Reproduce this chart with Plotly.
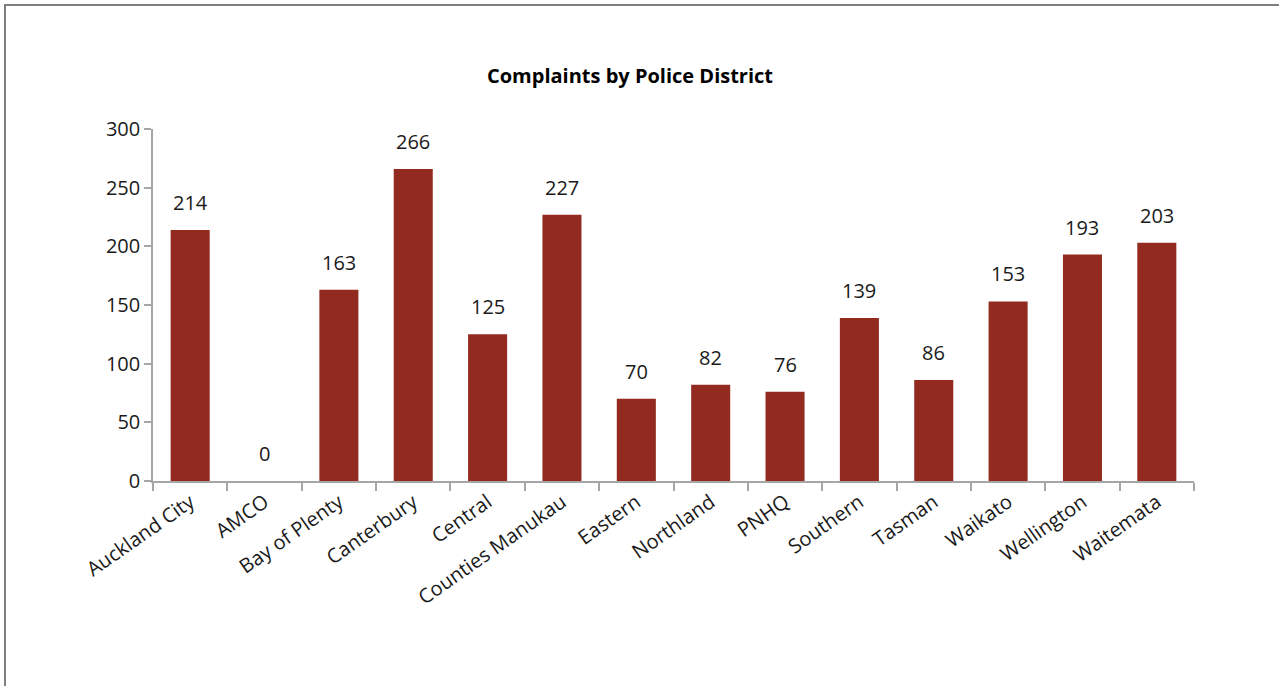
import plotly.graph_objects as go

districts = ["Auckland City", "AMCO", "Bay of Plenty", "Canterbury", "Central",
             "Counties Manukau", "Eastern", "Northland", "PNHQ", "Southern",
             "Tasman", "Waikato", "Wellington", "Waitemata"]
complaints = [214, 0, 163, 266, 125, 227, 70, 82, 76, 139, 86, 153, 193, 203]
y_ticks = [0, 50, 100, 150, 200, 250, 300]

W, H = 1279, 686
L, T = 153, 129
R = W - 1194
B = H - 481
pw, ph = W - L - R, H - T - B

FONT = "Open Sans"
TXT = "#1a1a1a"

fig = go.Figure(go.Bar(
    x=districts, y=complaints,
    marker=dict(color="#922A1F", line=dict(width=0)),
    hoverinfo="x+y",
))

for d, v in zip(districts, complaints):
    fig.add_annotation(x=d, y=v, text=str(v), showarrow=False,
                       yanchor="bottom", xanchor="center", yshift=12,
                       font=dict(family=FONT, size=20, color=TXT))

fig.update_layout(
    width=W, height=H,
    margin=dict(l=L, r=R, t=T, b=B, autoexpand=False),
    paper_bgcolor="white", plot_bgcolor="white",
    bargap=0.475,
    showlegend=False,
    font=dict(family=FONT, color=TXT),
    title=dict(text="<b>Complaints by Police District</b>",
               x=630 / W, xanchor="center", xref="container",
               y=1 - 76 / H, yanchor="middle", yref="container",
               font=dict(family=FONT, size=20, color="#000000")),
    xaxis=dict(showline=True, linecolor="#A6A6A6", linewidth=1.5,
               ticks="outside", tickson="boundaries", ticklen=8,
               tickcolor="#A6A6A6", tickwidth=1.5,
               tickangle=-35, tickfont=dict(family=FONT, size=20, color=TXT),
               showgrid=False, zeroline=False),
    yaxis=dict(range=[0, 300], tickvals=y_ticks, showline=True,
               linecolor="#A6A6A6", linewidth=1.5,
               ticks="outside", ticklen=7, tickcolor="#A6A6A6", tickwidth=1.5,
               tickfont=dict(family=FONT, size=20, color=TXT),
               showgrid=False, zeroline=False),
)

# outer chart frame (extends beyond right/bottom of window)
fig.add_shape(type="rect", xref="paper", yref="paper",
              x0=(5 - L) / pw, x1=(W + 20 - L) / pw,
              y0=-(H + 20 - (T + ph)) / ph, y1=1 + (T - 5) / ph,
              line=dict(color="#7F7F7F", width=2), fillcolor="rgba(0,0,0,0)")

fig.write_html("out.html",
               config={"displayModeBar": False},
               post_script="document.body.style.margin='0';document.body.style.overflow='hidden';")
